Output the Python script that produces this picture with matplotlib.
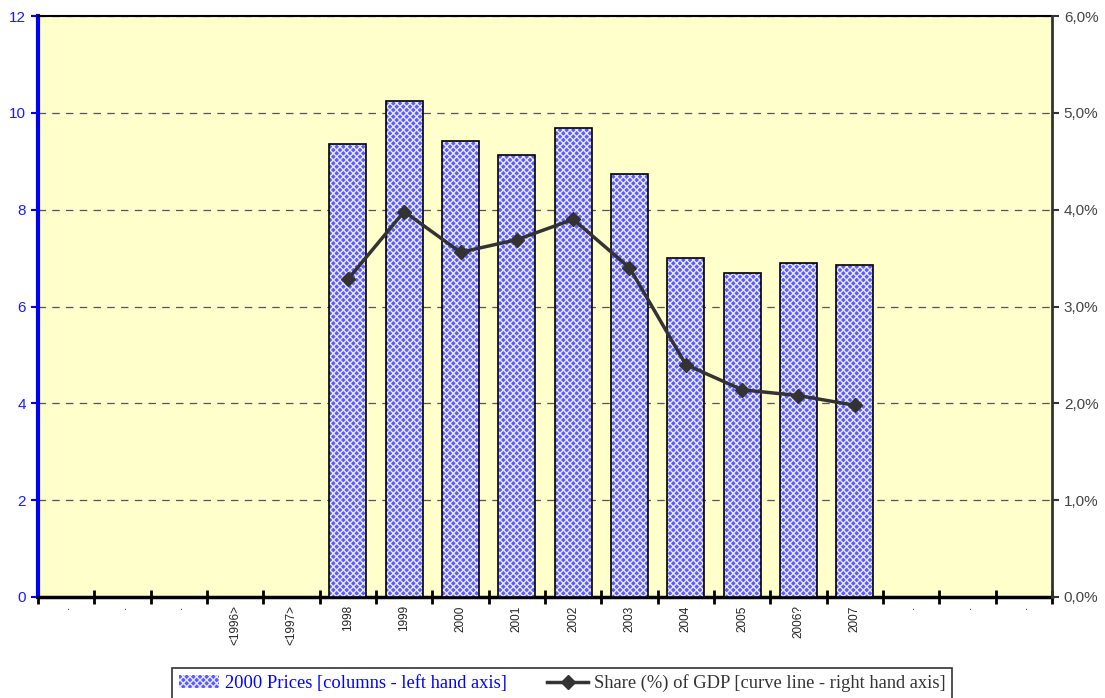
import numpy as np
import matplotlib
matplotlib.use("Agg")
import matplotlib.pyplot as plt
from matplotlib.patches import Patch
from matplotlib.lines import Line2D
from matplotlib.ticker import FuncFormatter, MultipleLocator

categories = [".", ".", ".", "<1996>", "<1997>", "1998", "1999", "2000", "2001", "2002",
              "2003", "2004", "2005", "2006?", "2007", ".", ".", "."]
prices = [np.nan, np.nan, np.nan, np.nan, np.nan, 9.36, 10.24, 9.42, 9.13, 9.69,
          8.74, 7.00, 6.69, 6.90, 6.86, np.nan, np.nan, np.nan]
share_gdp = [np.nan, np.nan, np.nan, np.nan, np.nan, 3.28, 3.98, 3.56, 3.69, 3.90,
             3.40, 2.40, 2.14, 2.08, 1.98, np.nan, np.nan, np.nan]

label_bars = "2000 Prices [columns - left hand axis]"
label_line = "Share (%) of GDP [curve line - right hand axis]"

plt.rcParams['font.family'] = ['Liberation Sans', 'DejaVu Sans']
plt.rcParams['hatch.linewidth'] = 1.0

fig = plt.figure(figsize=(11.05, 6.98), dpi=100)
ax = fig.add_axes([38/1105, 1-597/698, (1052-38)/1105, (597-16)/698])
ax.set_facecolor('#ffffcc')

x = np.arange(len(categories))
ax.set_xlim(-0.5, len(categories) - 0.5)
ax.set_ylim(0, 12)

bar_face = '#5a5aff'
ax.bar(x, prices, width=0.66, color=bar_face, edgecolor='#e8e8ff', linewidth=0,
       hatch='xxxxx', zorder=3)
ax.bar(x, prices, width=0.66, fill=False, edgecolor='black', linewidth=1.2, zorder=4)

ax.yaxis.set_major_locator(MultipleLocator(2))
ax.grid(axis='y', color='#555555', linestyle=(0, (6, 5)), linewidth=0.9, zorder=1)
ax.set_axisbelow(True)

# x ticks: boundaries as major (crossing), labels at centers as minor
ax.set_xticks(np.arange(-0.5, len(categories) + 0.5, 1.0))
ax.set_xticklabels([])
ax.tick_params(axis='x', which='major', direction='inout', length=10, width=2, color='black')
ax.set_xticks(x, minor=True)
ax.set_xticklabels(categories, minor=True, rotation=90, fontsize=8.5, color='#222222')
ax.tick_params(axis='x', which='minor', length=0, pad=6)

ax.tick_params(axis='y', colors='#0000ff', labelsize=11, direction='out', length=5, width=1.5)
for t in ax.get_yticklabels():
    t.set_color('#1a1aff')

ax.spines['left'].set_color('#0000ff')
ax.spines['left'].set_linewidth(3)
ax.spines['bottom'].set_color('black')
ax.spines['bottom'].set_linewidth(2.5)
ax.spines['top'].set_color('black')
ax.spines['top'].set_linewidth(1.5)
ax.spines['right'].set_visible(False)

ax2 = ax.twinx()
ax2.set_ylim(0, 6)
ax2.plot(x, share_gdp, color='#333333', linewidth=2.5, marker='D', markersize=7,
         markerfacecolor='#333333', markeredgecolor='#333333', zorder=5)
ax2.yaxis.set_major_locator(MultipleLocator(1))
ax2.yaxis.set_major_formatter(FuncFormatter(lambda v, p: f"{v:.1f}%".replace('.', ',')))
ax2.tick_params(axis='y', colors='#333333', labelsize=11, direction='out', length=5, width=1.5)
for t in ax2.get_yticklabels():
    t.set_color('#444444')
ax2.spines['right'].set_color('#333333')
ax2.spines['right'].set_linewidth(2)
for s in ['left', 'top', 'bottom']:
    ax2.spines[s].set_visible(False)

handles = [Patch(facecolor=bar_face, edgecolor='#e8e8ff', hatch='xxxxx', linewidth=0),
           Line2D([0], [0], color='#333333', linewidth=2.5, marker='D', markersize=7)]
leg = fig.legend(handles, [label_bars, label_line], loc='upper center',
                 bbox_to_anchor=(562/1105, 1-668/698), ncol=2, frameon=True,
                 fancybox=False, edgecolor='black', borderaxespad=0,
                 prop={'family': 'Liberation Serif', 'size': 13.3},
                 handlelength=2.2, handletextpad=0.3, columnspacing=2.2,
                 borderpad=0.35)
leg.get_frame().set_linewidth(1.2)
texts = leg.get_texts()
texts[0].set_color('#0000ff')
texts[1].set_color('#333333')

fig.savefig('out.png', dpi=100)
